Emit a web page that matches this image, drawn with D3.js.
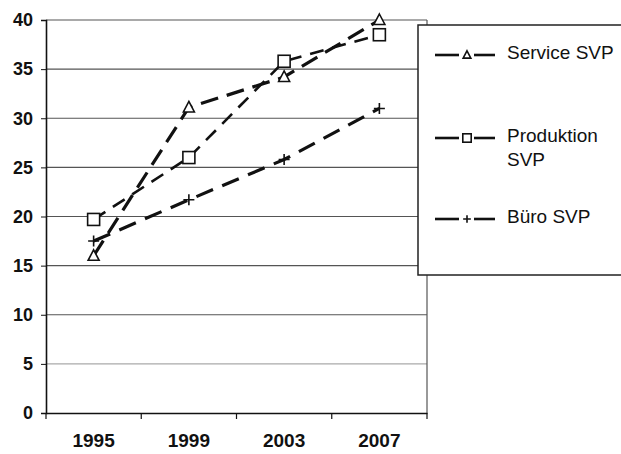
<!DOCTYPE html>
<html>
<head>
<meta charset="utf-8">
<script src="https://cdn.jsdelivr.net/npm/d3@7"></script>
<style>
  html, body { margin: 0; padding: 0; background: #fff; }
  svg { display: block; }
  text { font-family: "Liberation Sans", Arial, sans-serif; fill: #111; }
</style>
</head>
<body>
<svg id="chart" width="621" height="454"></svg>
<script>
const years = ["1995", "1999", "2003", "2007"];
const serviceValues = [16.0, 31.1, 34.2, 40.0];
const produktionValues = [19.7, 26.0, 35.8, 38.5];
const bueroValues = [17.5, 21.7, 25.8, 31.0];
const yTicks = [0, 5, 10, 15, 20, 25, 30, 35, 40];
const seriesNames = ["Service SVP", "Produktion SVP", "Büro SVP"];

const series = [
  { name: seriesNames[0], label: ["Service SVP"], values: serviceValues, marker: "triangle", dash: "18,9", width: 3.2 },
  { name: seriesNames[1], label: ["Produktion", "SVP"], values: produktionValues, marker: "square", dash: "14,9", width: 2.6 },
  { name: seriesNames[2], label: ["Büro SVP"], values: bueroValues, marker: "plus", dash: "18,10", width: 3.2 }
];

const svg = d3.select("#chart");
const pLeft = 46, pRight = 427, pTop = 20, pBottom = 413;

const x = d3.scaleBand().domain(years).range([pLeft, pRight]);
const y = d3.scaleLinear().domain([0, 40]).range([pBottom, pTop]);

// gridlines
svg.append("g").selectAll("line").data(yTicks.filter(d => d > 0)).join("line")
  .attr("x1", pLeft).attr("x2", pRight)
  .attr("y1", d => y(d)).attr("y2", d => y(d))
  .attr("stroke", d => d === 5 ? "#aaa" : "#555")
  .attr("stroke-width", 1.2);

// right border of plot area
svg.append("line").attr("x1", pRight).attr("x2", pRight).attr("y1", pTop).attr("y2", pBottom)
  .attr("stroke", "#555").attr("stroke-width", 1.2);

// y axis
const yAxis = svg.append("g").attr("transform", `translate(${pLeft},0)`)
  .call(d3.axisLeft(y).tickValues(yTicks).tickSize(5).tickPadding(8));
yAxis.select(".domain").attr("stroke", "#111").attr("stroke-width", 1.6);
yAxis.selectAll(".tick line").attr("stroke", "#111");
yAxis.selectAll("text").style("font-size", "18px").style("font-weight", "bold")
  .style("font-family", "Liberation Sans, Arial, sans-serif").attr("fill", "#111");

// x axis
const xAxis = svg.append("g").attr("transform", `translate(0,${pBottom})`)
  .call(d3.axisBottom(x).tickSize(0).tickPadding(21).tickSizeOuter(0));
xAxis.select(".domain").attr("stroke", "#111").attr("stroke-width", 1.6);
xAxis.selectAll("text").style("font-size", "19px").style("font-weight", "bold")
  .style("font-family", "Liberation Sans, Arial, sans-serif").attr("fill", "#111");
const boundaries = years.map(d => x(d)).concat([x(years[years.length - 1]) + x.bandwidth()]);
xAxis.selectAll(".bt").data(boundaries).join("line").attr("class", "bt")
  .attr("x1", d => d).attr("x2", d => d).attr("y1", 0).attr("y2", 6)
  .attr("stroke", "#111").attr("stroke-width", 1.2);

const cx = d => x(d) + x.bandwidth() / 2;

function drawMarker(g, type, px, py, k) {
  if (type === "triangle") {
    g.append("path").attr("d", `M${px},${py - 6 * k} L${px + 5.5 * k},${py + 4.5 * k} L${px - 5.5 * k},${py + 4.5 * k} Z`)
      .attr("fill", "#fff").attr("stroke", "#111").attr("stroke-width", 1.6);
  } else if (type === "square") {
    g.append("rect").attr("x", px - 6 * k).attr("y", py - 6 * k).attr("width", 12 * k).attr("height", 12 * k)
      .attr("fill", "#fff").attr("stroke", "#111").attr("stroke-width", 1.6);
  } else {
    g.append("path").attr("d", `M${px - 5.5 * k},${py} H${px + 5.5 * k} M${px},${py - 5.5 * k} V${py + 5.5 * k}`)
      .attr("fill", "none").attr("stroke", "#111").attr("stroke-width", 1.6);
  }
}

const line = d3.line().x((d, i) => cx(years[i])).y(d => y(d));

series.forEach(s => {
  const g = svg.append("g");
  g.append("path").datum(s.values).attr("d", line)
    .attr("fill", "none").attr("stroke", "#111").attr("stroke-width", s.width)
    .attr("stroke-dasharray", s.dash);
  s.values.forEach((v, i) => drawMarker(g, s.marker, cx(years[i]), y(v), 1));
});

// legend
const lg = svg.append("g");
lg.append("rect").attr("x", 418).attr("y", 25).attr("width", 230).attr("height", 250)
  .attr("fill", "#fff").attr("stroke", "#222").attr("stroke-width", 1.5);
const legendY = [55, 138, 219];
series.forEach((s, i) => {
  const ly = legendY[i];
  lg.append("line").attr("x1", 435).attr("x2", 459).attr("y1", ly).attr("y2", ly)
    .attr("stroke", "#111").attr("stroke-width", 2.6);
  lg.append("line").attr("x1", 474).attr("x2", 495).attr("y1", ly).attr("y2", ly)
    .attr("stroke", "#111").attr("stroke-width", 2.6);
  drawMarker(lg, s.marker, 467, ly, 0.7);
  const t = lg.append("text").attr("x", 507).attr("y", ly + 3.5)
    .style("font-size", "19px");
  s.label.forEach((l, j) => {
    t.append("tspan").attr("x", 507).attr("dy", j === 0 ? 0 : 24).text(l);
  });
});
</script>
</body>
</html>
